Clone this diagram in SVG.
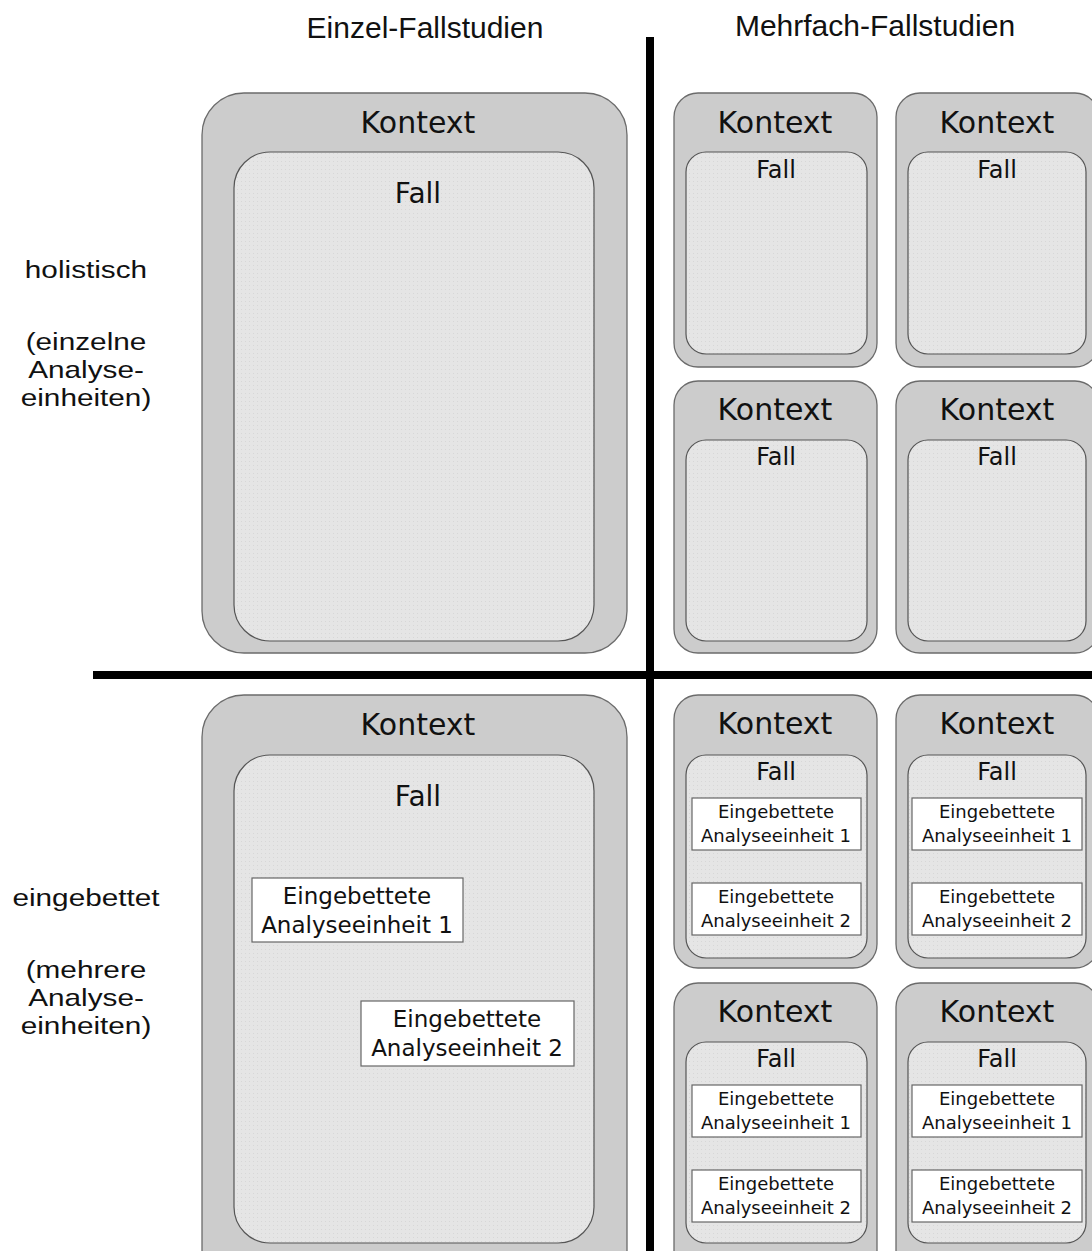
<svg xmlns="http://www.w3.org/2000/svg" width="1092" height="1251" viewBox="0 0 1092 1251">
  <defs>
    <pattern id="dots" width="4" height="4" patternUnits="userSpaceOnUse">
      <rect width="4" height="4" fill="#e5e5e5"/>
      <rect x="1" y="1" width="1" height="1" fill="#d7d7d7"/>
    </pattern>
  </defs>
  <style>
    .ctx { fill: #cccccc; stroke: #6b6b6b; stroke-width: 1.3; }
    .case { fill: url(#dots); stroke: #555555; stroke-width: 1.2; }
    .unit { fill: #ffffff; stroke: #666666; stroke-width: 1.2; }
    .axis { stroke: #000000; stroke-width: 8; }
    .col { font-family: "Liberation Sans", Arial, sans-serif; font-size: 30px; fill: #111; text-anchor: middle; }
    .row { font-family: "Liberation Sans", Arial, sans-serif; font-size: 24px; fill: #111; text-anchor: middle; }
    .k { font-family: "DejaVu Sans", Verdana, sans-serif; font-size: 30px; fill: #111; text-anchor: middle; }
    .fb { font-family: "DejaVu Sans", Verdana, sans-serif; font-size: 28px; fill: #111; text-anchor: middle; }
    .fs { font-family: "DejaVu Sans", Verdana, sans-serif; font-size: 24px; fill: #111; text-anchor: middle; }
    .ub { font-family: "DejaVu Sans", Verdana, sans-serif; font-size: 23px; fill: #111; text-anchor: middle; }
    .us { font-family: "DejaVu Sans", Verdana, sans-serif; font-size: 18px; fill: #111; text-anchor: middle; }
  </style>

  <rect width="1092" height="1251" fill="#ffffff"/>

  <!-- column headings -->
  <g id="column-headings">
    <text class="col" x="425" y="38">Einzel-Fallstudien</text>
    <text class="col" x="875" y="36">Mehrfach-Fallstudien</text>
  </g>

  <!-- row headings, set wide and tightly leaded -->
  <g id="row-headings" transform="translate(86 0) scale(1.24 1)">
    <text class="row" x="0" y="278">holistisch</text>
    <text class="row" x="0" y="350">(einzelne</text>
    <text class="row" x="0" y="378">Analyse-</text>
    <text class="row" x="0" y="406">einheiten)</text>
    <text class="row" x="0" y="906">eingebettet</text>
    <text class="row" x="0" y="978">(mehrere</text>
    <text class="row" x="0" y="1006">Analyse-</text>
    <text class="row" x="0" y="1034">einheiten)</text>
  </g>

  <!-- quadrant dividers -->
  <g id="connectors">
    <line class="axis" x1="650" y1="37" x2="650" y2="1251"/>
    <line class="axis" x1="93" y1="675" x2="1092" y2="675"/>
  </g>

  <!-- single case, holistic -->
  <g id="single-holistic">
    <rect class="ctx" x="202" y="93" width="425" height="560" rx="42"/>
    <text class="k" x="418" y="133">Kontext</text>
    <rect class="case" x="234" y="152" width="360" height="489" rx="36"/>
    <text class="fb" x="418" y="203">Fall</text>
  </g>

  <!-- multiple cases, holistic -->
  <g id="multi-holistic-1">
    <rect class="ctx" x="674" y="93" width="203" height="274" rx="24"/>
    <text class="k" x="775" y="133">Kontext</text>
    <rect class="case" x="686" y="152" width="181" height="202" rx="20"/>
    <text class="fs" x="776" y="178">Fall</text>
  </g>
  <g id="multi-holistic-2">
    <rect class="ctx" x="896" y="93" width="203" height="274" rx="24"/>
    <text class="k" x="997" y="133">Kontext</text>
    <rect class="case" x="908" y="152" width="178" height="202" rx="20"/>
    <text class="fs" x="997" y="178">Fall</text>
  </g>
  <g id="multi-holistic-3">
    <rect class="ctx" x="674" y="381" width="203" height="272" rx="24"/>
    <text class="k" x="775" y="420">Kontext</text>
    <rect class="case" x="686" y="440" width="181" height="201" rx="20"/>
    <text class="fs" x="776" y="465">Fall</text>
  </g>
  <g id="multi-holistic-4">
    <rect class="ctx" x="896" y="381" width="203" height="272" rx="24"/>
    <text class="k" x="997" y="420">Kontext</text>
    <rect class="case" x="908" y="440" width="178" height="201" rx="20"/>
    <text class="fs" x="997" y="465">Fall</text>
  </g>

  <!-- single case, embedded -->
  <g id="single-embedded">
    <rect class="ctx" x="202" y="695" width="425" height="600" rx="42"/>
    <text class="k" x="418" y="735">Kontext</text>
    <rect class="case" x="234" y="755" width="360" height="488" rx="36"/>
    <text class="fb" x="418" y="806">Fall</text>
    <rect class="unit" x="252" y="878" width="211" height="64"/>
    <text class="ub" x="357" y="904">Eingebettete</text>
    <text class="ub" x="357" y="933">Analyseeinheit 1</text>
    <rect class="unit" x="361" y="1001" width="213" height="65"/>
    <text class="ub" x="467" y="1027">Eingebettete</text>
    <text class="ub" x="467" y="1056">Analyseeinheit 2</text>
  </g>

  <!-- multiple cases, embedded -->
  <g id="multi-embedded-1">
    <rect class="ctx" x="674" y="695" width="203" height="273" rx="24"/>
    <text class="k" x="775" y="734">Kontext</text>
    <rect class="case" x="686" y="755" width="181" height="203" rx="20"/>
    <text class="fs" x="776" y="780">Fall</text>
    <rect class="unit" x="692" y="798" width="169" height="52"/>
    <text class="us" x="776" y="818">Eingebettete</text>
    <text class="us" x="776" y="842">Analyseeinheit 1</text>
    <rect class="unit" x="692" y="883" width="169" height="52"/>
    <text class="us" x="776" y="903">Eingebettete</text>
    <text class="us" x="776" y="927">Analyseeinheit 2</text>
  </g>
  <g id="multi-embedded-2">
    <rect class="ctx" x="896" y="695" width="203" height="273" rx="24"/>
    <text class="k" x="997" y="734">Kontext</text>
    <rect class="case" x="908" y="755" width="178" height="203" rx="20"/>
    <text class="fs" x="997" y="780">Fall</text>
    <rect class="unit" x="912" y="798" width="170" height="52"/>
    <text class="us" x="997" y="818">Eingebettete</text>
    <text class="us" x="997" y="842">Analyseeinheit 1</text>
    <rect class="unit" x="912" y="883" width="170" height="52"/>
    <text class="us" x="997" y="903">Eingebettete</text>
    <text class="us" x="997" y="927">Analyseeinheit 2</text>
  </g>
  <g id="multi-embedded-3">
    <rect class="ctx" x="674" y="983" width="203" height="300" rx="24"/>
    <text class="k" x="775" y="1022">Kontext</text>
    <rect class="case" x="686" y="1042" width="181" height="201" rx="20"/>
    <text class="fs" x="776" y="1067">Fall</text>
    <rect class="unit" x="692" y="1085" width="169" height="52"/>
    <text class="us" x="776" y="1105">Eingebettete</text>
    <text class="us" x="776" y="1129">Analyseeinheit 1</text>
    <rect class="unit" x="692" y="1170" width="169" height="52"/>
    <text class="us" x="776" y="1190">Eingebettete</text>
    <text class="us" x="776" y="1214">Analyseeinheit 2</text>
  </g>
  <g id="multi-embedded-4">
    <rect class="ctx" x="896" y="983" width="203" height="300" rx="24"/>
    <text class="k" x="997" y="1022">Kontext</text>
    <rect class="case" x="908" y="1042" width="178" height="201" rx="20"/>
    <text class="fs" x="997" y="1067">Fall</text>
    <rect class="unit" x="912" y="1085" width="170" height="52"/>
    <text class="us" x="997" y="1105">Eingebettete</text>
    <text class="us" x="997" y="1129">Analyseeinheit 1</text>
    <rect class="unit" x="912" y="1170" width="170" height="52"/>
    <text class="us" x="997" y="1190">Eingebettete</text>
    <text class="us" x="997" y="1214">Analyseeinheit 2</text>
  </g>
</svg>
